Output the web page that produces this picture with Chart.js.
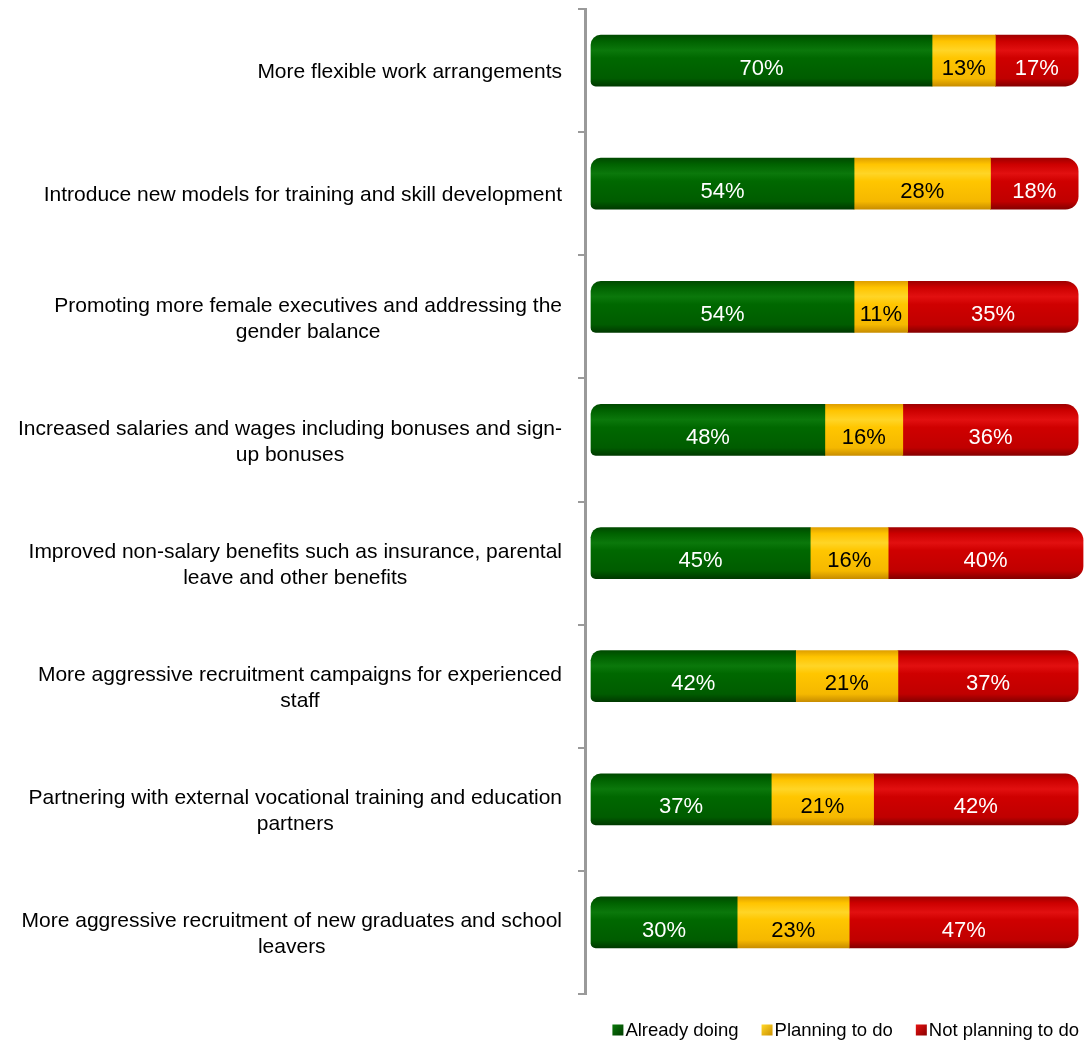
<!DOCTYPE html>
<html lang="en">

<head>
  <meta charset="UTF-8">
  <meta name="viewport" content="width=device-width, initial-scale=1.0">
  <title>Workforce measures</title>
  <script src="https://cdn.jsdelivr.net/npm/chart.js@4.4.0/dist/chart.umd.min.js"></script>
  <style>
    html, body { margin: 0; padding: 0; background: #fff; }
    #wrap { width: 1085px; height: 1041px; }
  </style>
</head>

<body>
  <div id="wrap"><canvas id="measureChart"></canvas></div>
  <script>
    const categories = [
      ['More flexible work arrangements'],
      ['Introduce new models for training and skill development'],
      ['Promoting more female executives and addressing the', 'gender balance'],
      ['Increased salaries and wages including bonuses and sign-', 'up bonuses'],
      ['Improved non-salary benefits such as insurance, parental', 'leave and other benefits'],
      ['More aggressive recruitment campaigns for experienced', 'staff'],
      ['Partnering with external vocational training and education', 'partners'],
      ['More aggressive recruitment of new graduates and school', 'leavers']
    ];
    const seriesNames = ['Already doing', 'Planning to do', 'Not planning to do'];
    const alreadyDoing = [70, 54, 54, 48, 45, 42, 37, 30];
    const planningToDo = [13, 28, 11, 16, 16, 21, 21, 23];
    const notPlanning = [17, 18, 35, 36, 40, 37, 42, 47];

    const FAMILY = '"Liberation Sans", Arial, sans-serif';
    const CAT_FONT = '21px ' + FAMILY;
    const VALUE_FONT = '22px ' + FAMILY;
    const LEGEND_FONT = '18.5px ' + FAMILY;
    const BAR_H = 51;

    // cylinder-like shading: dark rim, light band near the top, dark bottom
    const tones = {
      green: { flat: '#006600', text: '#fff', stops: ['#004a00', '#006200', '#0b780b', '#006800', '#005c00', '#003a00'] },
      yellow: { flat: '#ffc000', text: '#000', stops: ['#e0a000', '#ffc400', '#ffd526', '#ffc600', '#f5b800', '#c98e00'] },
      red: { flat: '#cc0000', text: '#fff', stops: ['#a00000', '#cc0000', '#e21010', '#cf0000', '#c00000', '#860000'] }
    };

    function shade(tone) {
      return (c) => {
        const chart = c.chart;
        if (c.type !== 'data' || !chart.chartArea) return tone.flat;
        const y = chart.scales.y.getPixelForValue(c.dataIndex);
        const g = chart.ctx.createLinearGradient(0, y - BAR_H / 2, 0, y + BAR_H / 2);
        const pos = [0, 0.12, 0.3, 0.45, 0.85, 1];
        pos.forEach((p, i) => g.addColorStop(p, tone.stops[i]));
        return g;
      };
    }

    // bars sit a little above the middle of their row
    const liftBars = {
      id: 'liftBars',
      beforeDatasetsDraw(chart) { chart.ctx.save(); chart.ctx.translate(0, -10); },
      afterDatasetsDraw(chart) { chart.ctx.restore(); }
    };

    // percentage text inside each segment
    const segmentLabels = {
      id: 'segmentLabels',
      afterDatasetsDraw(chart) {
        const ctx = chart.ctx;
        ctx.save();
        ctx.font = VALUE_FONT;
        ctx.textAlign = 'center';
        ctx.textBaseline = 'middle';
        chart.data.datasets.forEach((ds, di) => {
          chart.getDatasetMeta(di).data.forEach((bar, i) => {
            ctx.fillStyle = ds.textColor;
            ctx.fillText(ds.data[i] + '%', (bar.x + bar.base) / 2, bar.y - 2);
          });
        });
        ctx.restore();
      }
    };

    // category text: right aligned block, lines centred inside it
    const categoryLabels = {
      id: 'categoryLabels',
      afterDraw(chart) {
        const ctx = chart.ctx;
        const yScale = chart.scales.y;
        const right = chart.chartArea.left - 23;
        const lineH = 26;
        ctx.save();
        ctx.font = CAT_FONT;
        ctx.fillStyle = '#000';
        ctx.textAlign = 'center';
        ctx.textBaseline = 'middle';
        categories.forEach((lines, i) => {
          const widest = Math.max(...lines.map(t => ctx.measureText(t).width));
          const cx = right - widest / 2;
          const cy = yScale.getPixelForValue(i) + 2;
          lines.forEach((t, k) => {
            ctx.fillText(t, cx, cy + (k - (lines.length - 1) / 2) * lineH);
          });
        });
        ctx.restore();
      }
    };

    // legend row at the bottom right
    const legendRow = {
      id: 'legendRow',
      afterDraw(chart) {
        const ctx = chart.ctx;
        const box = 11, gapText = 2, gapItem = 23;
        const cy = 1031;
        ctx.save();
        ctx.font = LEGEND_FONT;
        ctx.textBaseline = 'middle';
        const items = chart.data.datasets.map(ds => ({ ds, w: box + gapText + ctx.measureText(ds.label).width }));
        const total = items.reduce((s, it) => s + it.w, 0) + gapItem * (items.length - 1);
        let x = chart.width - 6 - total;
        items.forEach(({ ds, w }) => {
          const g = ctx.createLinearGradient(x, cy - box / 2, x + box, cy + box / 2);
          g.addColorStop(0, ds.tone.stops[2]);
          g.addColorStop(1, ds.tone.stops[5]);
          ctx.fillStyle = g;
          ctx.fillRect(x, cy - box / 2 - 1, box, box);
          ctx.fillStyle = '#000';
          ctx.textAlign = 'left';
          ctx.fillText(ds.label, x + box + gapText, cy);
          x += w + gapItem;
        });
        ctx.restore();
      }
    };

    const sets = [
      { label: seriesNames[0], data: alreadyDoing, tone: tones.green, radius: { topLeft: 10, bottomLeft: 5 } },
      { label: seriesNames[1], data: planningToDo, tone: tones.yellow, radius: 0 },
      { label: seriesNames[2], data: notPlanning, tone: tones.red, radius: { topRight: 13, bottomRight: 13 } }
    ];

    new Chart(document.getElementById('measureChart'), {
      type: 'bar',
      data: {
        labels: categories.map(l => l.join(' ')),
        datasets: sets.map(s => ({
          label: s.label,
          data: s.data,
          tone: s.tone,
          textColor: s.tone.text,
          backgroundColor: shade(s.tone),
          borderWidth: 0,
          borderSkipped: false,
          borderRadius: s.radius,
          barThickness: BAR_H
        }))
      },
      options: {
        indexAxis: 'y',
        responsive: true,
        maintainAspectRatio: false,
        animation: false,
        layout: { padding: { left: 578, top: 9, right: 0, bottom: 47 } },
        scales: {
          x: {
            stacked: true,
            display: false,
            min: -1.23,
            max: 101.4
          },
          y: {
            stacked: true,
            ticks: { display: false },
            grid: {
              offset: true,
              drawOnChartArea: false,
              tickLength: 7,
              color: '#9a9a9a',
              lineWidth: 2
            },
            border: { color: '#9a9a9a', width: 3 }
          }
        },
        plugins: {
          legend: { display: false },
          tooltip: { enabled: false }
        }
      },
      plugins: [liftBars, segmentLabels, categoryLabels, legendRow]
    });
  </script>
</body>

</html>
